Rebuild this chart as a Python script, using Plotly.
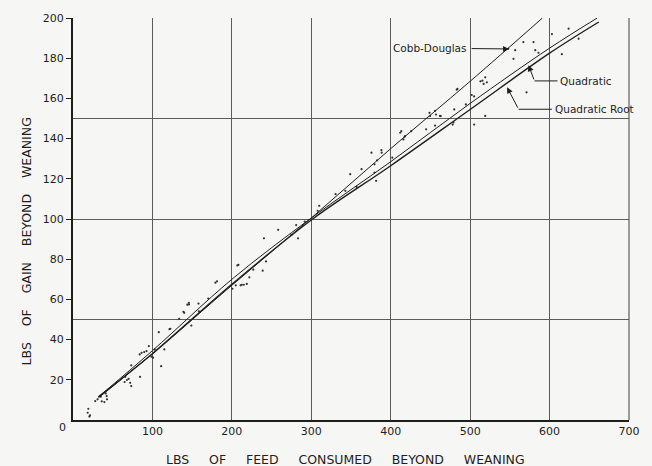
import plotly.graph_objects as go

# Fitted curves
cd_feed = [32, 100, 200, 300, 400, 500, 591]
cd_gain = [11.0, 33.0, 67.0, 100.5, 135.0, 168.5, 200.0]

quad_feed = [32, 100, 200, 300, 400, 500, 600, 660]
quad_gain = [11.5, 34.5, 70.0, 100.5, 128.5, 157.5, 185.0, 200.0]

root_feed = [32, 100, 200, 300, 400, 500, 600, 662]
root_gain = [11.5, 33.0, 67.5, 99.5, 126.5, 154.5, 182.5, 198.0]

obs_feed = [19.3, 18.5, 21.4, 20.6, 28, 30.9, 35, 36.2, 39.5, 42.4, 42.8, 41.2, 65.8, 67.9, 70, 72,
            73.3, 65, 73.3, 84.4, 84, 86.4, 89.7, 92.6, 95.5, 98.8, 100.8, 102.9, 111, 115, 108,
            122.6, 133.7, 140, 146, 149, 158.4,
            121.5, 139, 143.9, 158, 170.3, 179.3, 204.9, 206.9, 211, 215, 200.8,
            145.8, 181.3, 208.3, 212.5, 218.8, 222, 227, 238.8, 240.4, 243, 258.3, 275, 283.3, 281, 291.7,
            310, 308, 330.6, 342.9, 349, 363.3, 357, 379.6, 379.6, 381.6, 382.9, 388.6, 402, 412, 416, 418,
            375.8, 388.3, 413.3, 417.5, 425.8, 444.6, 448.8, 457, 463, 455.8, 478, 480, 484, 494.6, 505, 505, 513,
            449.6, 455.9, 462, 479, 483, 502, 515.5, 519, 517, 521, 519, 548, 554.6, 556.7, 567, 579.8, 582,
            571, 586, 603, 615.5, 624, 636.6]
obs_gain = [5.6, 3.6, 2.3, 1.7, 9.4, 10.3, 11.6, 9.3, 8.9, 11.9, 10.3, 13.2, 21.5, 19.9, 20.5, 18.5,
            16.9, 18.9, 27.2, 21.5, 32.6, 33.4, 33.8, 34.3, 36.8, 31.5, 31, 35.1, 26.8, 35.1, 43.7,
            45.4, 50.3, 53.3, 57.5, 47, 54.1,
            45.2, 53.8, 57.4, 57.9, 60.4, 68.3, 67, 76.9, 67, 67.3, 65.3,
            58.3, 69, 77.2, 67.3, 67.7, 71, 74.8, 74.3, 90.4, 78.9, 94.6, 92.1, 90.4, 97, 98.7,
            106.6, 104.1, 112.4, 114, 122.3, 124.8, 116, 127.2, 123.1, 119, 129.2, 133, 130.5, 142.9, 139.6, 141.3,
            133, 134.3, 143.7, 140.9, 143.7, 144.6, 152.8, 152, 151.2, 146.5, 147, 154.5, 164.7, 157, 161, 147, 168.5,
            151.3, 153.8, 151.3, 148, 164.3, 161.7, 168.8, 170.5, 167.2, 168, 151.3, 184.7, 179.7, 184, 188, 188, 184,
            163, 182.7, 192, 182, 194.7, 189.7]

x_ticks = [100, 200, 300, 400, 500, 600, 700]
y_ticks = [20, 40, 60, 80, 100, 120, 140, 160, 180, 200]
y_grid = [50, 100, 150, 200]

INK = "#1e1e1e"
GRID = "#5c5c5c"
FONT = "DejaVu Sans"

fig = go.Figure()
fig.add_trace(go.Scatter(x=obs_feed, y=obs_gain, mode="markers",
                         marker=dict(size=2.2, color="#333333"), showlegend=False, hoverinfo="x+y"))
fig.add_trace(go.Scatter(x=cd_feed, y=cd_gain, mode="lines", line=dict(color=INK, width=1, shape="spline"),
                         name="Cobb-Douglas", showlegend=False))
fig.add_trace(go.Scatter(x=quad_feed, y=quad_gain, mode="lines", line=dict(color=INK, width=1, shape="spline"),
                         name="Quadratic", showlegend=False))
fig.add_trace(go.Scatter(x=root_feed, y=root_gain, mode="lines", line=dict(color=INK, width=1.4, shape="spline"),
                         name="Quadratic Root", showlegend=False))

nb = "\u00a0"
annotations = [
    dict(xref="paper", yref="paper", x=0.49, y=-0.098, yanchor="middle", xanchor="center", showarrow=False,
         text=(nb * 5).join(["LBS", "OF", "FEED", "CONSUMED", "BEYOND", "WEANING"]),
         font=dict(family=FONT, size=12.5, color=INK)),
    dict(xref="paper", yref="paper", x=-0.084, y=0.445, textangle=-90, xanchor="center", yanchor="middle",
         showarrow=False, text=(nb * 4).join(["LBS", "OF", "GAIN", "BEYOND", "WEANING"]),
         font=dict(family=FONT, size=12.5, color=INK)),
    dict(xref="paper", yref="paper", x=-0.018, y=-0.018, xanchor="center", yanchor="middle", showarrow=False,
         text="0", font=dict(family=FONT, size=11, color=INK)),
    # labels
    dict(xref="x", yref="y", x=498, y=185, xanchor="right", yanchor="middle", showarrow=False,
         text="Cobb-Douglas", font=dict(family=FONT, size=10.5, color=INK)),
    dict(xref="x", yref="y", x=611, y=168.7, xanchor="left", yanchor="middle", showarrow=False,
         text="Quadratic", font=dict(family=FONT, size=10.5, color=INK)),
    dict(xref="x", yref="y", x=604, y=154.6, xanchor="left", yanchor="middle", showarrow=False,
         text="Quadratic Root", font=dict(family=FONT, size=10.5, color=INK)),
    # arrows
    dict(xref="x", yref="y", axref="x", ayref="y", x=549, y=184.6, ax=500, ay=184.8, text="",
         showarrow=True, arrowhead=2, arrowsize=1.2, arrowwidth=1, arrowcolor=INK),
    dict(xref="x", yref="y", axref="x", ayref="y", x=573.5, y=176.5, ax=581, ay=168.7, text="",
         showarrow=True, arrowhead=2, arrowsize=1.2, arrowwidth=1, arrowcolor=INK),
    dict(xref="x", yref="y", axref="x", ayref="y", x=546.5, y=165.5, ax=561, ay=154.6, text="",
         showarrow=True, arrowhead=2, arrowsize=1.2, arrowwidth=1, arrowcolor=INK),
]

shapes = [
    dict(type="line", xref="x", yref="y", x0=581, y0=168.7, x1=610, y1=168.7, line=dict(color=INK, width=1)),
    dict(type="line", xref="x", yref="y", x0=561, y0=154.6, x1=603, y1=154.6, line=dict(color=INK, width=1)),
    # right frame edge
    dict(type="line", xref="paper", yref="paper", x0=1, y0=0, x1=1, y1=1, line=dict(color=GRID, width=1.2)),
]

fig.update_layout(
    width=652, height=466,
    margin=dict(l=73, r=19, t=18, b=46),
    paper_bgcolor="#f6f6f4", plot_bgcolor="#f6f6f4",
    annotations=annotations, shapes=shapes,
    showlegend=False,
    xaxis=dict(range=[0, 700], tickvals=x_ticks, ticks="", showgrid=True, gridcolor=GRID, gridwidth=1,
               showline=True, linecolor=INK, linewidth=2, zeroline=False,
               tickfont=dict(family=FONT, size=11, color=INK)),
    yaxis=dict(range=[0, 200], tickvals=y_ticks, ticks="outside", ticklen=5, tickcolor=INK, tickwidth=1.2,
               showgrid=False, showline=True, linecolor=INK, linewidth=2, zeroline=False,
               tickfont=dict(family=FONT, size=11, color=INK),
               minor=dict(tickvals=y_grid, showgrid=True, gridcolor=GRID, gridwidth=1, ticks="")),
)

fig.write_html("out.html")
